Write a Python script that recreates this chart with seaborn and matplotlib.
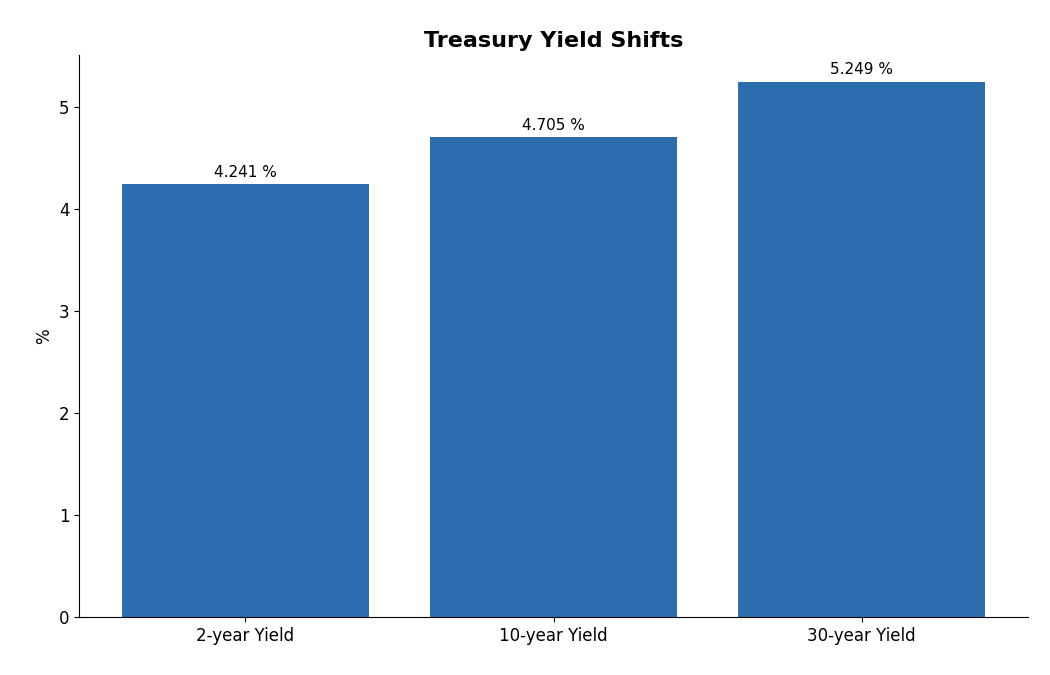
import matplotlib
matplotlib.use("Agg")
import matplotlib.pyplot as plt
import seaborn as sns
import pandas as pd

categories = ["2-year Yield", "10-year Yield", "30-year Yield"]
values = [4.241, 4.705, 5.249]

sns.set_style("ticks", {"axes.edgecolor": "black", "text.color": "black",
                        "xtick.color": "black", "ytick.color": "black",
                        "axes.labelcolor": "black"})
plt.rcParams['font.family'] = ['DejaVu Sans']
fig = plt.figure(figsize=(10.5, 6.75), dpi=100)
ax = fig.add_axes([79/1050, 1-617/675, (1028-79)/1050, (617-55)/675])
df = pd.DataFrame({"cat": categories, "val": values})
sns.barplot(data=df, x="cat", y="val", color="#2c6db0", saturation=1, width=0.8,
            linewidth=0, ax=ax)
for i, v in enumerate(values):
    ax.annotate(f"{v:.3f} %", (i, v), xytext=(0, 3), textcoords="offset points",
                ha="center", va="bottom", fontsize=11, color="black")
ax.set_xlim(-0.54, 2.54)
ax.set_ylim(0, 5.51)
ax.set_xlabel("")
ax.set_ylabel("%", fontsize=12)
ax.set_title("Treasury Yield Shifts", fontsize=16, fontweight="bold", color="black")
ax.tick_params(labelsize=12)
sns.despine(ax=ax)
fig.savefig("out.png", dpi=100)
